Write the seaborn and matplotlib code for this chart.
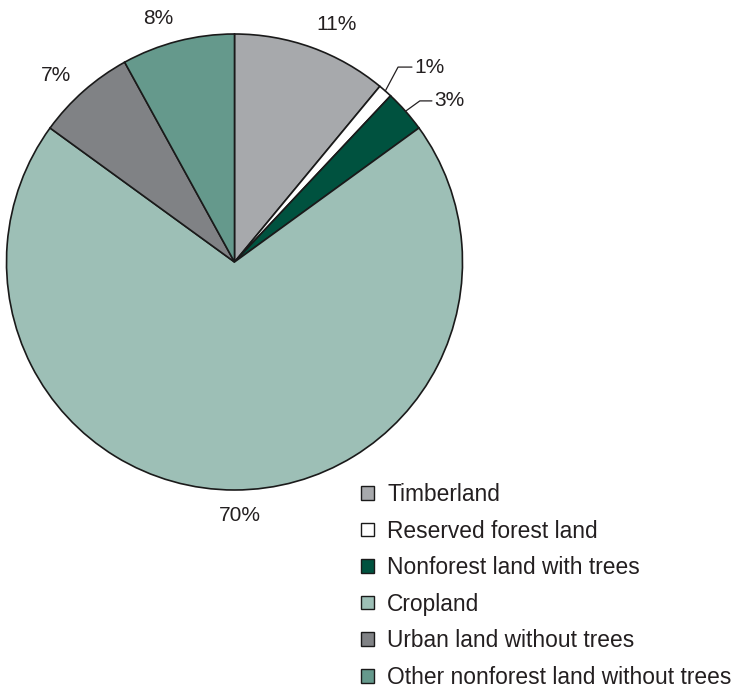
import numpy as np
import matplotlib
matplotlib.use("Agg")
import matplotlib.pyplot as plt
import matplotlib.patches as mpatches
import seaborn as sns

# Land-use shares (percent), clockwise from the top
categories = [
    "Timberland",
    "Reserved forest land",
    "Nonforest land with trees",
    "Cropland",
    "Urban land without trees",
    "Other nonforest land without trees",
]
shares = [11, 1, 3, 70, 7, 8]
colors = ["#a7a9ac", "#ffffff", "#00523f", "#9dbfb6", "#808285", "#65998c"]

sns.set_theme(style="white")
plt.rcParams["font.family"] = ["Liberation Sans", "DejaVu Sans"]

W, H = 735, 687
fig = plt.figure(figsize=(W / 100, H / 100), dpi=100)

# Pie geometry in pixels
cx, cy, R = 234.5, 262.0, 228.0
pad = 1.12
half = R * pad
ax = fig.add_axes([(cx - half) / W, (H - cy - half) / H, 2 * half / W, 2 * half / H])

wedges, _ = ax.pie(
    shares,
    colors=colors,
    startangle=90,
    counterclock=False,
    radius=1.0,
    wedgeprops=dict(edgecolor="#1a1a1a", linewidth=1.2),
)
ax.set_xlim(-pad, pad)
ax.set_ylim(-pad, pad)
ax.set_aspect("equal")
ax.axis("off")

# Label placement: (radial distance, angular nudge in degrees) for direct labels,
# leader lines (elbow distance, nudge, tail length) for the thin slices
label_pos = {0: (1.136, -3.5), 3: (1.11, 1.3), 4: (1.134, 2.3), 5: (1.12, 3.0)}
leader = {1: (1.116, 1.4, 0.061), 2: (1.077, -0.4, 0.053)}

for i, (w, v) in enumerate(zip(wedges, shares)):
    mid = np.deg2rad((w.theta1 + w.theta2) / 2)
    if i in label_pos:
        d, dang = label_pos[i]
        a = mid + np.deg2rad(dang)
        ax.text(d * np.cos(a), d * np.sin(a), f"{v}%", ha="center", va="center",
                fontsize=15, color="#231f20")
    else:
        d, dang, tail = leader[i]
        a2 = mid + np.deg2rad(dang)
        x0, y0 = np.cos(mid), np.sin(mid)
        x1, y1 = d * np.cos(a2), d * np.sin(a2)
        x2 = x1 + tail
        ax.plot([x0, x1, x2], [y0, y1, y1], color="#231f20", lw=0.9, clip_on=False)
        ax.text(x2 + 0.012, y1, f"{v}%", ha="left", va="center", fontsize=15, color="#231f20")

handles = [mpatches.Patch(facecolor=c, edgecolor="#1a1a1a", linewidth=1.0) for c in colors]
fig.legend(
    handles, categories,
    loc="upper left",
    bbox_to_anchor=(361 / W, 1 - 483 / H),
    frameon=False,
    fontsize=16.4,
    handlelength=0.55,
    handleheight=0.55,
    handletextpad=0.6,
    labelspacing=0.595,
    borderpad=0,
    borderaxespad=0,
    labelcolor="#231f20",
)

fig.savefig("out.png", dpi=100)
